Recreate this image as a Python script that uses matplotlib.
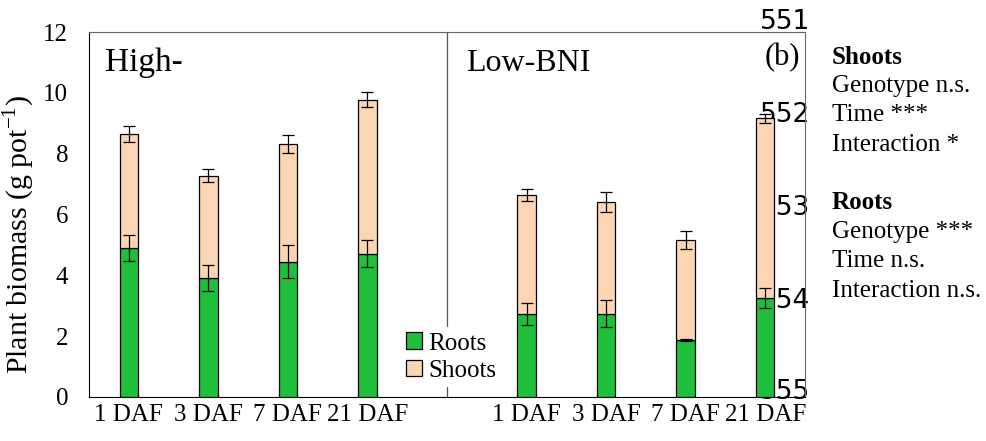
import matplotlib
matplotlib.use("Agg")
import matplotlib.pyplot as plt
import numpy as np

plt.rcParams['font.family'] = ['Liberation Serif', 'DejaVu Serif']
plt.rcParams['mathtext.fontset'] = 'custom'
plt.rcParams['mathtext.rm'] = 'Liberation Serif'

tick_labels = ["1 DAF", "3 DAF", "7 DAF", "21 DAF", "", "1 DAF", "3 DAF", "7 DAF", "21 DAF"]
roots = [4.89, 3.92, 4.45, 4.71, None, 2.73, 2.74, 1.88, 3.25]
roots_err = [0.42, 0.42, 0.54, 0.44, None, 0.35, 0.45, 0.03, 0.33]
totals = [8.65, 7.28, 8.31, 9.77, None, 6.64, 6.40, 5.17, 9.16]
shoots_err = [0.25, 0.20, 0.30, 0.25, None, 0.20, 0.33, 0.30, 0.16]

green = '#1fbf3c'
peach = '#fcd5b4'

fig = plt.figure(figsize=(9.86, 4.41), dpi=100)
ax = fig.add_axes([0.0903, 0.0998, 0.7261, 0.8276])
ax.set_zorder(1)
ax.patch.set_alpha(0)

idx = [i for i, v in enumerate(roots) if v is not None]
x = np.array(idx, dtype=float)
r = np.array([roots[i] for i in idx])
re = np.array([roots_err[i] for i in idx])
t = np.array([totals[i] for i in idx])
se = np.array([shoots_err[i] for i in idx])
s = t - r

w = 0.23
ax.bar(x, r, width=w, color=green, edgecolor='black', linewidth=0.9, label='Roots', zorder=3)
ax.bar(x, s, width=w, bottom=r, color=peach, edgecolor='black', linewidth=0.9, label='Shoots', zorder=3)
ax.errorbar(x, r, yerr=re, fmt='none', ecolor='black', elinewidth=0.9, capsize=4, capthick=0.9, zorder=4)
ax.errorbar(x, t, yerr=se, fmt='none', ecolor='black', elinewidth=0.9, capsize=4, capthick=0.9, zorder=4)

ax.axvline(4, color='#555555', linewidth=0.9, zorder=1)

ax.set_xlim(-0.5, 8.5)
ax.set_ylim(0, 12)
ax.set_yticks([0, 2, 4, 6, 8, 10, 12])
ax.set_xticks(range(9))
ax.set_xticklabels(tick_labels)
ax.tick_params(axis='both', length=0, labelsize=18)
ax.tick_params(axis='x', pad=5)
ax.tick_params(axis='y', pad=15)
ax.set_ylabel('Plant biomass (g pot$^{-1}$)', fontsize=21.5, labelpad=0)
ax.yaxis.set_label_coords(-0.073, 0.445)

for sp in ['top', 'right']:
    ax.spines[sp].set_color('#666666')
for sp in ['left', 'bottom']:
    ax.spines[sp].set_color('black')

ax.text(0.022, 0.915, 'High-', transform=ax.transAxes, fontsize=24, va='center', ha='left')
ax.text(0.527, 0.915, 'Low-BNI', transform=ax.transAxes, fontsize=23, va='center', ha='left')
ax.text(0.993, 0.93, '(b)', transform=ax.transAxes, fontsize=22, va='center', ha='right')

leg = ax.legend(loc='center left', bbox_to_anchor=(401 / 986, 1 - 357 / 441),
                bbox_transform=fig.transFigure, frameon=True, fontsize=18,
                handlelength=0.65, handleheight=0.65, handletextpad=0.25, labelspacing=0.2,
                borderpad=0.2, borderaxespad=0)
leg.get_frame().set_edgecolor('none')
leg.get_frame().set_facecolor('white')
leg.get_frame().set_alpha(1)
leg.set_zorder(5)

# Right side statistics text
lines = [("Shoots", True), ("Genotype n.s.", False), ("Time ***", False), ("Interaction *", False),
         ("", False), ("Roots", True), ("Genotype ***", False), ("Time n.s.", False), ("Interaction n.s.", False)]
y0 = 57
for i, (txt, bold) in enumerate(lines):
    fig.text(832 / 986, 1 - (y0 + i * 29.2) / 441, txt, fontsize=18,
             fontweight='bold' if bold else 'normal', va='center', ha='left')

# Line-number artifacts
for txt, py in [("551", 22), ("552", 115), ("553", 208), ("554", 301), ("555", 392)]:
    fig.text(810 / 986, 1 - py / 441, txt, fontsize=19, family='DejaVu Sans',
             va='center', ha='right', zorder=0)

fig.savefig('out.png', dpi=100)
